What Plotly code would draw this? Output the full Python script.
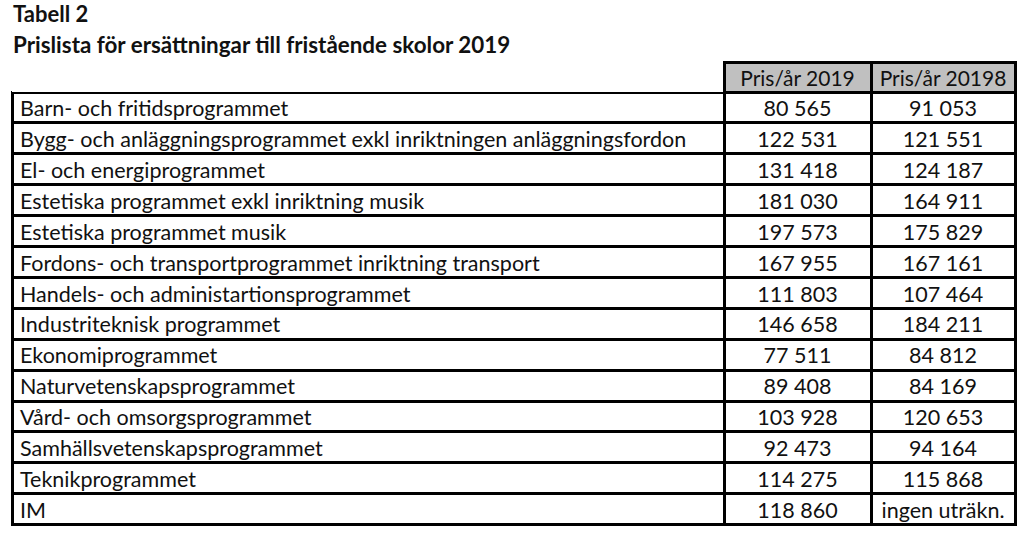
import plotly.graph_objects as go

program = ["Barn- och fritidsprogrammet",
           "Bygg- och anläggningsprogrammet exkl inriktningen anläggningsfordon",
           "El- och energiprogrammet",
           "Estetiska programmet exkl inriktning musik",
           "Estetiska programmet musik",
           "Fordons- och transportprogrammet inriktning transport",
           "Handels- och administartionsprogrammet",
           "Industriteknisk programmet",
           "Ekonomiprogrammet",
           "Naturvetenskapsprogrammet",
           "Vård- och omsorgsprogrammet",
           "Samhällsvetenskapsprogrammet",
           "Teknikprogrammet",
           "IM"]
pris_2019 = [80565, 122531, 131418, 181030, 197573, 167955, 111803,
             146658, 77511, 89408, 103928, 92473, 114275, 118860]
pris_20198 = [91053, 121551, 124187, 164911, 175829, 167161, 107464,
              184211, 84812, 84169, 120653, 94164, 115868, None]
headers = ["", "Pris/år 2019", "Pris/år 20198"]


def fmt(v):
    if v is None:
        return "ingen\u00a0uträkn."
    return f"{v:,}".replace(",", "\u00a0")


W, H = 1023, 534
left, right = 12, 1015
top, bottom = 62, 524
FONT = "Lato"

fig = go.Figure(go.Table(
    domain=dict(x=[left / W, right / W], y=[1 - bottom / H - 0.01, 1 - top / H]),
    columnwidth=[712, 147, 144],
    header=dict(values=[h.replace(" ", "\u00a0") for h in headers],
                fill_color=["white", "#c0c0c0", "#c0c0c0"],
                line=dict(color=["rgba(0,0,0,0)", "black", "black"], width=3),
                align="center", height=30,
                font=dict(family=FONT, size=21, color="#111")),
    cells=dict(values=[program, [fmt(v) for v in pris_2019], [fmt(v) for v in pris_20198]],
               fill_color="white",
               line=dict(color="black", width=3),
               align=["left", "center", "center"], height=30.9,
               font=dict(family=FONT, size=21.5, color="#111")),
))

fig.add_annotation(text="<b>Tabell 2</b>", x=12 / W, y=1 - 14 / H,
                   xref="paper", yref="paper", xanchor="left", yanchor="middle",
                   showarrow=False, borderpad=0,
                   font=dict(family=FONT, size=22, color="#111"))
fig.add_annotation(text="<b>Prislista för ersättningar till fristående skolor 2019</b>",
                   x=12 / W, y=1 - 45 / H,
                   xref="paper", yref="paper", xanchor="left", yanchor="middle",
                   showarrow=False, borderpad=0,
                   font=dict(family=FONT, size=22.4, color="#111"))

fig.update_layout(width=W, height=H, margin=dict(l=0, r=0, t=0, b=0),
                  paper_bgcolor="white", plot_bgcolor="white")

# drop the browser's default body margin so the figure sits at the page corner
fig.write_html("out.html", config={"displayModeBar": False},
               post_script="document.body.style.margin='0';")
